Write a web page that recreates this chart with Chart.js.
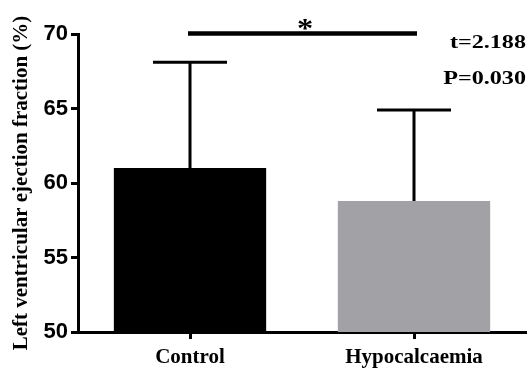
<!DOCTYPE html>
<html>
<head>
<meta charset="utf-8">
<script src="https://cdn.jsdelivr.net/npm/chart.js@4.4.0/dist/chart.umd.min.js"></script>
<style>
  html, body { margin: 0; padding: 0; background: #fff; }
  #wrap { width: 528px; height: 370px; position: relative; }
</style>
</head>
<body>
<div id="wrap"><canvas id="myChart"></canvas></div>
<script>
var groups = ['Control', 'Hypocalcaemia'];
var means = [61.0, 58.8];
var sds = [7.1, 6.1];
var barColors = ['#000000', '#a2a1a6'];
var yTicks = [50, 55, 60, 65, 70];
var statLines = ['t=2.188', 'P=0.030'];
var sigMark = '*';

// draw text squeezed/stretched horizontally like the original figure
function wideText(c, txt, x, y, sx) {
    c.save();
    c.translate(x, y);
    c.scale(sx, 1);
    c.fillText(txt, 0, 0);
    c.restore();
}

// error bars (upward only) + significance bracket + stats text
var extras = {
    id: 'extras',
    afterDatasetsDraw: function(chart) {
        var c = chart.ctx, xs = chart.scales.x, ys = chart.scales.y;
        c.save();
        c.strokeStyle = '#000';
        c.lineWidth = 3;
        c.lineCap = 'butt';
        means.forEach(function(m, i) {
            var x = xs.getPixelForValue(i);
            var y0 = ys.getPixelForValue(m);
            var y1 = ys.getPixelForValue(m + sds[i]);
            c.beginPath();
            c.moveTo(x, y0);
            c.lineTo(x, y1);
            c.moveTo(x - 37, y1);
            c.lineTo(x + 37, y1);
            c.stroke();
        });
        // bracket
        var yb = ys.getPixelForValue(70) - 0.5;
        c.lineWidth = 4.5;
        c.beginPath();
        c.moveTo(xs.getPixelForValue(0) - 2, yb);
        c.lineTo(xs.getPixelForValue(1) + 3, yb);
        c.stroke();
        c.fillStyle = '#000';
        c.font = 'bold 27px "Liberation Serif"';
        c.textAlign = 'center';
        c.textBaseline = 'alphabetic';
        wideText(c, sigMark, (xs.getPixelForValue(0) + xs.getPixelForValue(1)) / 2 + 3, yb + 3, 1.2);
        c.font = 'bold 19px "Liberation Serif"';
        c.textAlign = 'right';
        wideText(c, statLines[0], 526, 48, 1.27);
        wideText(c, statLines[1], 526, 84, 1.27);
        c.restore();
    }
};

var ctx = document.getElementById('myChart').getContext('2d');
var chart = new Chart(ctx, {
    type: 'bar',
    data: {
        labels: groups,
        datasets: [{
            data: means,
            backgroundColor: barColors,
            borderWidth: 0,
            categoryPercentage: 1,
            barPercentage: 0.68
        }]
    },
    options: {
        responsive: true,
        maintainAspectRatio: false,
        animation: false,
        events: [],
        layout: { padding: { top: 34, right: 2, left: 0, bottom: 0 } },
        plugins: { legend: { display: false }, tooltip: { enabled: false } },
        scales: {
            x: {
                afterFit: function(s) { s.height = 38; },
                grid: { display: true, drawOnChartArea: false, offset: false, tickLength: 7, tickWidth: 3, color: '#000' },
                border: { display: true, color: '#000', width: 3 },
                ticks: { color: '#000', padding: 6, font: { family: '"Liberation Serif"', size: 21, weight: 'bold' } }
            },
            y: {
                min: 50,
                max: 70,
                afterFit: function(s) { s.width = 78; },
                afterBuildTicks: function(s) { s.ticks = yTicks.map(function(v) { return { value: v }; }); },
                grid: { display: true, drawOnChartArea: false, tickLength: 7, tickWidth: 3, color: '#000' },
                border: { display: true, color: '#000', width: 3 },
                ticks: { color: '#000', padding: 3, font: { family: '"Liberation Sans"', size: 22, weight: 'bold' } },
                title: {
                    display: true,
                    text: 'Left ventricular ejection fraction (%)',
                    color: '#000',
                    padding: { top: 9, bottom: 0 },
                    font: { family: '"Liberation Serif"', size: 21, weight: 'bold' }
                }
            }
        }
    },
    plugins: [extras]
});
</script>
</body>
</html>
